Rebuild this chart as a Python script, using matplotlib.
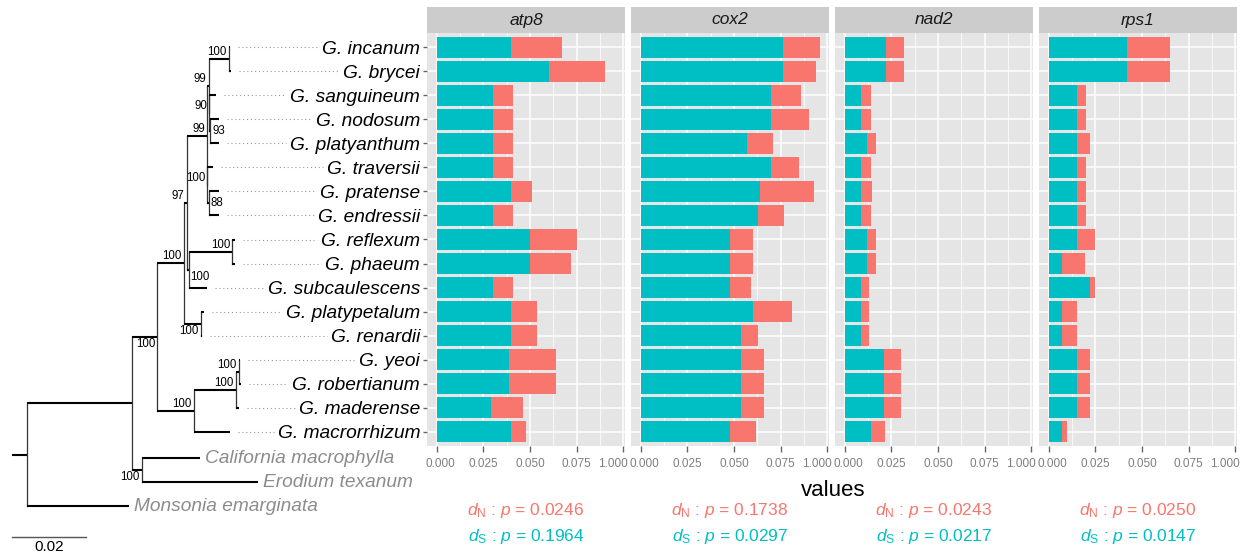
import numpy as np
import matplotlib
matplotlib.use("Agg")
import matplotlib.pyplot as plt
import matplotlib.transforms as mtrans

plt.rcParams['font.family'] = ['Liberation Sans', 'DejaVu Sans']
plt.rcParams['mathtext.fontset'] = 'custom'
plt.rcParams['mathtext.rm'] = 'Liberation Sans'
plt.rcParams['mathtext.it'] = 'Liberation Sans:italic'

# ---- data -------------------------------------------------------------
taxa = ["G. incanum", "G. brycei", "G. sanguineum", "G. nodosum", "G. platyanthum",
        "G. traversii", "G. pratense", "G. endressii", "G. reflexum", "G. phaeum",
        "G. subcaulescens", "G. platypetalum", "G. renardii", "G. yeoi",
        "G. robertianum", "G. maderense", "G. macrorrhizum"]
outgroups = ["California macrophylla", "Erodium texanum", "Monsonia emarginata"]
genes = ["atp8", "cox2", "nad2", "rps1"]

ds_atp8 = [0.040, 0.060, 0.030, 0.030, 0.030, 0.030, 0.040, 0.030, 0.050, 0.050,
           0.030, 0.040, 0.040, 0.039, 0.039, 0.029, 0.040]
dn_atp8 = [0.027, 0.030, 0.011, 0.011, 0.011, 0.011, 0.011, 0.011, 0.025, 0.022,
           0.011, 0.014, 0.014, 0.025, 0.025, 0.017, 0.008]
ds_cox2 = [0.076, 0.076, 0.070, 0.070, 0.057, 0.070, 0.064, 0.063, 0.048, 0.048,
           0.048, 0.060, 0.054, 0.054, 0.054, 0.054, 0.048]
dn_cox2 = [0.020, 0.018, 0.016, 0.020, 0.014, 0.015, 0.029, 0.014, 0.012, 0.012,
           0.011, 0.021, 0.009, 0.012, 0.012, 0.012, 0.014]
ds_nad2 = [0.022, 0.022, 0.009, 0.009, 0.012, 0.009, 0.0086, 0.009, 0.012, 0.012,
           0.009, 0.009, 0.009, 0.021, 0.021, 0.021, 0.014]
dn_nad2 = [0.010, 0.010, 0.005, 0.005, 0.005, 0.005, 0.006, 0.005, 0.005, 0.005,
           0.004, 0.004, 0.004, 0.009, 0.009, 0.009, 0.0075]
ds_rps1 = [0.042, 0.042, 0.015, 0.015, 0.015, 0.015, 0.015, 0.015, 0.015, 0.007,
           0.022, 0.007, 0.007, 0.015, 0.015, 0.015, 0.007]
dn_rps1 = [0.023, 0.023, 0.005, 0.005, 0.007, 0.005, 0.005, 0.005, 0.010, 0.0125,
           0.003, 0.008, 0.008, 0.007, 0.007, 0.007, 0.003]

p_dn = [0.0246, 0.1738, 0.0243, 0.0250]
p_ds = [0.1964, 0.0297, 0.0217, 0.0147]

xticks = [0.0, 0.025, 0.05, 0.075, 0.1]
xtick_labels = ["0.000", "0.025", "0.050", "0.075", "1.000"]

# tree: (parent, child, branch length), children listed top to bottom
root_edge = 0.0041
edges = [
    ("root", "In", 0.0284), ("root", "Monsonia emarginata", 0.0277),
    ("In", "G", 0.0068), ("In", "CE", 0.0027),
    ("CE", "California macrophylla", 0.0158), ("CE", "Erodium texanum", 0.0315),
    ("G", "A", 0.0072), ("G", "B", 0.0099),
    ("A", "N97", 0.0008), ("A", "P", 0.0046),
    ("N97", "K", 0.0055), ("N97", "RPS", 0.0005),
    ("K", "N99a", 0.0004), ("K", "N99b", 0.0001),
    ("N99a", "IB", 0.0054), ("N99a", "N90", 0.0001),
    ("IB", "G. incanum", 0.0005), ("IB", "G. brycei", 0.0008),
    ("N90", "G. sanguineum", 0.0019), ("N90", "N93", 0.0004),
    ("N93", "G. nodosum", 0.0022), ("N93", "G. platyanthum", 0.0022),
    ("N99b", "G. traversii", 0.0014), ("N99b", "E88", 0.0003),
    ("E88", "G. pratense", 0.0027), ("E88", "G. endressii", 0.0027),
    ("RPS", "RP", 0.0118), ("RPS", "G. subcaulescens", 0.0051),
    ("RP", "G. reflexum", 0.0008), ("RP", "G. phaeum", 0.0008),
    ("P", "G. platypetalum", 0.0008), ("P", "G. renardii", 0.0003),
    ("B", "C", 0.0113), ("B", "G. macrorrhizum", 0.0099),
    ("C", "D", 0.0008), ("C", "G. maderense", 0.0008),
    ("D", "G. yeoi", 0.0003), ("D", "G. robertianum", 0.0007),
]
node_labels = {
    "IB": ("100", "ul"), "N99a": ("99", "ul"), "N90": ("90", "ul"), "N93": ("93", "r"),
    "K": ("99", "ul"), "N99b": ("100", "ul"), "E88": ("88", "r"), "N97": ("97", "ul"),
    "RP": ("100", "ul"), "RPS": ("100", "lr"), "P": ("100", "ll"), "A": ("100", "ul"),
    "G": ("100", "ll"), "B": ("100", "ul"), "C": ("100", "ul"), "D": ("100", "ul"),
    "CE": ("100", "ll"),
}

# ---- layout -----------------------------------------------------------
W, H = 1259, 554
TEAL, SALMON = "#00BFC4", "#F8766D"
panel_left = [427, 631, 835, 1039]
panel_w, panel_top, panel_bot, strip_top = 198, 33, 446, 7
xlim = (-0.0052, 0.1009)
ylim = (17.6, 0.4)


def px_box(l, t, r, b):
    return [l / W, 1 - b / H, (r - l) / W, (b - t) / H]


fig = plt.figure(figsize=(W / 100, H / 100), dpi=100)

# tree axes, in the same row units as the bar panels
tax = fig.add_axes([0, 0, 427 / W, 1])
tax.axis("off")
rows_per_px = (ylim[0] - ylim[1]) / (panel_bot - panel_top)
units_per_px = 0.02 / 74
tax.set_xlim(-11.7 * units_per_px, (427 - 11.7) * units_per_px)
tax.set_ylim(ylim[1] + (H - panel_top) * rows_per_px, ylim[1] - panel_top * rows_per_px)

children = {}
for par, ch, ln in edges:
    children.setdefault(par, []).append((ch, ln))

tips = taxa + outgroups
ypos = {t: i + 1 for i, t in enumerate(tips)}
for t in outgroups:
    ypos[t] += 0.1
xpos = {}


def layout(node, x):
    xpos[node] = x
    if node in children:
        ys = [layout(ch, x + ln) for ch, ln in children[node]]
        ypos[node] = (ys[0] + ys[-1]) / 2
    return ypos[node]


layout("root", root_edge)

tax.plot([0, root_edge], [ypos["root"]] * 2, color="black", lw=1.5, solid_capstyle="butt")
for par, kids in children.items():
    ys = [ypos[c] for c, _ in kids]
    tax.plot([xpos[par]] * 2, [min(ys), max(ys)], color="#333333", lw=0.9)
    for c, _ in kids:
        tax.plot([xpos[par], xpos[c]], [ypos[c]] * 2, color="black", lw=1.5,
                 solid_capstyle="butt")

dx, dy = 2 * units_per_px, 1 * rows_per_px
for node, (txt, where) in node_labels.items():
    x, y = xpos[node], ypos[node]
    if where == "ul":
        tax.text(x - dx, y - dy, txt, ha="right", va="bottom", fontsize=8.3)
    elif where == "ll":
        tax.text(x - dx, y + dy, txt, ha="right", va="top", fontsize=8.3)
    elif where == "lr":
        tax.text(x + dx, y + dy, txt, ha="left", va="top", fontsize=8.3)
    else:
        tax.text(x + dx, y, txt, ha="left", va="center", fontsize=8.3)

for t in outgroups:
    tax.text(xpos[t] + 5 * units_per_px, ypos[t], t, ha="left", va="center",
             fontsize=13.8, style="italic", color="#8c8c8c")

sb_y = ylim[1] + (537 - panel_top) * rows_per_px
tax.plot([0, 0.02], [sb_y, sb_y], color="#555555", lw=1.0)
tax.text(0.01, sb_y + 3 * rows_per_px, "0.02", ha="center", va="top", fontsize=11)

# ---- bar panels -------------------------------------------------------
ds_all = [ds_atp8, ds_cox2, ds_nad2, ds_rps1]
dn_all = [dn_atp8, dn_cox2, dn_nad2, dn_rps1]
rows = np.arange(1, len(taxa) + 1)
minor = [0.0125, 0.0375, 0.0625, 0.0875]
axes = []
for i, gene in enumerate(genes):
    L = panel_left[i]
    ax = fig.add_axes(px_box(L, panel_top, L + panel_w, panel_bot))
    ax.set_facecolor("#E5E5E5")
    ax.barh(rows, ds_all[i], height=0.9, color=TEAL, zorder=3)
    ax.barh(rows, dn_all[i], left=ds_all[i], height=0.9, color=SALMON, zorder=3)
    ax.set_xlim(*xlim)
    ax.set_ylim(*ylim)
    ax.set_xticks(xticks)
    ax.set_xticklabels(xtick_labels)
    ax.set_xticks(minor, minor=True)
    ax.set_yticks(rows)
    ax.grid(which="major", color="white", lw=1.1)
    ax.grid(which="minor", axis="x", color="white", lw=0.5)
    ax.set_axisbelow(True)
    for s in ax.spines.values():
        s.set_visible(False)
    ax.tick_params(axis="x", which="major", length=4.3, width=1.0, color="#666666",
                   labelsize=8.5, labelcolor="#7f7f7f", pad=4)
    ax.tick_params(axis="x", which="minor", length=0)
    if i == 0:
        ax.set_yticklabels(taxa, fontsize=13.8, style="italic")
        ax.tick_params(axis="y", length=3, width=1.0, color="#666666", pad=2)
    else:
        ax.tick_params(axis="y", length=0, labelleft=False)
    axes.append(ax)

    sax = fig.add_axes(px_box(L, strip_top, L + panel_w, panel_top))
    sax.set_facecolor("#CCCCCC")
    sax.set_xticks([])
    sax.set_yticks([])
    for s in sax.spines.values():
        s.set_visible(False)
    sax.text(0.5, 0.5, gene, ha="center", va="center", fontsize=12.5, style="italic",
             color="#1a1a1a", transform=sax.transAxes)

    cx = (L + panel_w / 2) / W
    fig.text(cx, 1 - 511 / H, r"$d_{\mathrm{N}}$ : $p$ = %.4f" % p_dn[i], color=SALMON,
             ha="center", va="center", fontsize=12.5)
    fig.text(cx, 1 - 537 / H, r"$d_{\mathrm{S}}$ : $p$ = %.4f" % p_ds[i], color=TEAL,
             ha="center", va="center", fontsize=12.5)

fig.text(833 / W, 1 - 490 / H, "values", ha="center", va="center", fontsize=16)

# nudge the edge tick labels apart so neighbouring panels do not collide
for ax in axes:
    labs = ax.get_xticklabels()
    labs[0].set_transform(labs[0].get_transform() +
                          mtrans.ScaledTranslation(4 / 100, 0, fig.dpi_scale_trans))
    labs[-1].set_transform(labs[-1].get_transform() +
                           mtrans.ScaledTranslation(-10 / 100, 0, fig.dpi_scale_trans))

# dotted leaders from tips to the taxon labels
fig.canvas.draw()
inv = tax.transData.inverted()
for i, lab in enumerate(axes[0].get_yticklabels()):
    bb = lab.get_window_extent()
    x_end = inv.transform((bb.x0 - 4, 0))[0]
    x_start = xpos[taxa[i]] + 8 * units_per_px
    tax.plot([x_start, x_end], [ypos[taxa[i]]] * 2, color="#9a9a9a", lw=0.8,
             linestyle=(0, (1, 2.5)))

fig.savefig("out.png", dpi=100)
